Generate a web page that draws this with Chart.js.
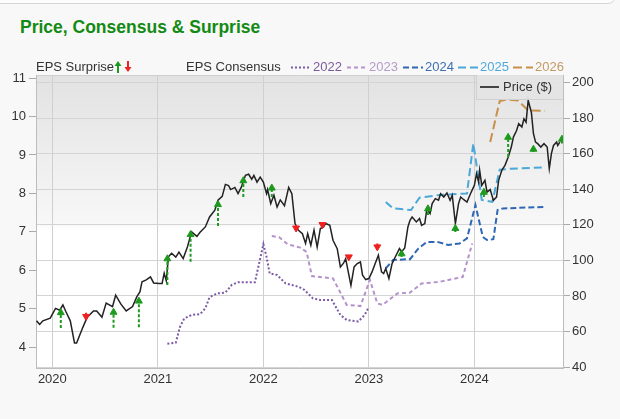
<!DOCTYPE html>
<html>
<head>
<meta charset="utf-8">
<script src="https://cdn.jsdelivr.net/npm/chart.js"></script>
<style>
	body { margin: 0; background: #f8f8f8; font-family: "Liberation Sans", Arial, sans-serif; }
	#wrap { position: relative; width: 620px; height: 419px; overflow: hidden; }
	#card { position: absolute; left: -6px; top: -12px; width: 620px; height: 14px; border: 1px solid #d6d6d6; border-radius: 0 0 8px 0; background: #fdfdfd; }
	#title { position: absolute; left: 20px; top: 17px; line-height: 20px; font-size: 17.5px; font-weight: bold; color: #138a13; white-space: nowrap; }
	.item { position: absolute; top: 59px; line-height: 16px; font-size: 13px; color: #333; white-space: nowrap; }
	.item svg { position: absolute; top: 0; }
	#priceLegend { position: absolute; left: 476px; top: 75px; width: 86px; height: 24px; background: rgba(228, 228, 228, 0.85); border-left: 1px solid #d0d0d0; border-bottom: 1px solid #d0d0d0; }
	#priceLegend span { position: absolute; left: 26px; top: 4px; line-height: 16px; font-size: 13px; color: #333; }
	canvas { position: absolute; left: 0; top: 0; }
</style>
</head>
<body>
<div id="wrap">
	<div id="card"></div>
	<div id="title">Price, Consensus &amp; Surprise</div>
	<canvas id="chart" width="620" height="419"></canvas>
	<div class="item" style="left:36px">EPS Surprise</div>
	<svg class="item" style="left:114px" width="20" height="16">
		<line x1="4" y1="14" x2="4" y2="6" stroke="#1e9a1e" stroke-width="2"/>
		<polygon points="0.5,7 4,2 7.5,7" fill="#1e9a1e"/>
		<line x1="14" y1="2" x2="14" y2="9" stroke="#ee2020" stroke-width="2"/>
		<polygon points="10.5,8 14,13 17.5,8" fill="#ee2020"/>
	</svg>
	<div class="item" style="left:186px">EPS Consensus</div>
	<div id="consensusLegend"></div>
	<div id="priceLegend">
		<svg style="position:absolute;left:2px;top:0" width="22" height="24"><line x1="1" y1="12" x2="20" y2="12" stroke="#444" stroke-width="2"/></svg>
		<span>Price ($)</span>
	</div>
</div>
<script>
// price, right axis ($)
const priceDates = [
	2019.85, 2019.88, 2019.91, 2019.98, 2020.03, 2020.07, 2020.10, 2020.13, 2020.17, 2020.21,
	2020.23, 2020.26, 2020.29, 2020.33, 2020.39, 2020.42, 2020.47, 2020.51, 2020.57, 2020.60,
	2020.65, 2020.70, 2020.76, 2020.80, 2020.83, 2020.85, 2020.89, 2020.93, 2020.96, 2021.01,
	2021.04, 2021.06, 2021.08, 2021.10, 2021.13, 2021.17, 2021.20, 2021.24, 2021.28, 2021.32,
	2021.37, 2021.40, 2021.45, 2021.49, 2021.54, 2021.57, 2021.61, 2021.64, 2021.67, 2021.69,
	2021.73, 2021.76, 2021.79, 2021.83, 2021.86, 2021.89, 2021.91, 2021.94, 2021.97, 2022.00,
	2022.03, 2022.04, 2022.07, 2022.10, 2022.13, 2022.16, 2022.20, 2022.24, 2022.27, 2022.30,
	2022.33, 2022.37, 2022.40, 2022.42, 2022.45, 2022.48, 2022.51, 2022.54, 2022.57, 2022.59,
	2022.63, 2022.66, 2022.70, 2022.73, 2022.76, 2022.78, 2022.83, 2022.86, 2022.89, 2022.92,
	2022.94, 2022.97, 2023.00, 2023.03, 2023.06, 2023.09, 2023.12, 2023.14, 2023.16, 2023.19,
	2023.22, 2023.25, 2023.29, 2023.31, 2023.34, 2023.37, 2023.39, 2023.41, 2023.45, 2023.48,
	2023.50, 2023.53, 2023.55, 2023.58, 2023.60, 2023.63, 2023.66, 2023.68, 2023.71, 2023.74,
	2023.77, 2023.79, 2023.82, 2023.85, 2023.87, 2023.90, 2023.93, 2023.95, 2023.97, 2024.00,
	2024.02, 2024.04, 2024.05, 2024.07, 2024.10, 2024.12, 2024.15, 2024.18, 2024.21, 2024.23,
	2024.26, 2024.29, 2024.32, 2024.35, 2024.37, 2024.40, 2024.42, 2024.45, 2024.47, 2024.49,
	2024.51, 2024.54, 2024.56, 2024.58, 2024.60, 2024.63, 2024.66, 2024.69, 2024.71, 2024.73,
	2024.75, 2024.78, 2024.79, 2024.81
];
const priceValues = [
	66.0, 64.0, 66.0, 67.5, 73.0, 72.0, 75.0, 71.0, 66.0, 53.5,
	53.5, 58.0, 62.5, 68.0, 71.6, 71.5, 68.0, 76.0, 74.0, 80.4,
	75.4, 71.6, 74.0, 79.5, 82.3, 88.0, 89.0, 90.7, 87.3, 87.0,
	87.0, 92.8, 88.5, 102.0, 104.0, 101.8, 104.6, 101.0, 107.5, 116.0,
	113.5, 115.8, 118.8, 124.4, 128.2, 133.8, 136.0, 142.7, 142.0, 139.8,
	141.0, 137.5, 141.0, 147.8, 148.4, 145.6, 147.8, 144.0, 146.8, 144.0,
	137.5, 139.8, 131.9, 136.6, 130.0, 134.0, 130.7, 141.0, 137.5, 120.7,
	117.0, 115.0, 109.5, 115.0, 108.5, 117.0, 107.5, 117.9, 118.8, 120.7,
	119.7, 111.3, 106.6, 96.3, 98.4, 101.0, 86.0, 96.3, 98.2, 99.1,
	91.7, 89.2, 89.8, 93.5, 98.2, 102.9, 93.5, 92.6, 95.4, 89.8,
	98.2, 101.9, 106.6, 104.7, 107.0, 118.8, 122.5, 124.4, 121.6, 123.5,
	119.7, 120.7, 129.1, 126.3, 131.9, 134.7, 133.8, 137.5, 135.6, 137.9,
	133.8, 136.6, 120.7, 131.9, 135.6, 134.1, 132.8, 135.6, 138.4, 142.2,
	148.7, 144.0, 150.6, 142.2, 145.0, 138.4, 139.8, 133.8, 135.6, 145.0,
	150.6, 153.4, 158.0, 163.7, 169.3, 173.0, 176.8, 175.0, 179.6, 177.7,
	189.9, 183.3, 171.2, 166.5, 165.6, 163.7, 165.6, 163.7, 151.6, 160.0,
	164.6, 166.5, 164.6, 166.5
];

// EPS surprise per quarter, left axis
const surpriseDates = [
	2020.08, 2020.32, 2020.58, 2020.82, 2021.09, 2021.31, 2021.57, 2021.81, 2022.08, 2022.31,
	2022.56, 2022.81, 2023.08, 2023.31, 2023.56, 2023.82, 2024.09, 2024.32, 2024.56, 2024.83
];
const surpriseActual = [
	4.90, 4.80, 4.91, 5.20, 6.30, 6.93, 7.71, 8.33, 8.14, 7.10,
	7.19, 6.35, 6.61, 6.43, 7.60, 7.09, 8.03, 9.46, 9.15, 9.41
];
const surpriseEstimate = [
	4.50, 4.90, 4.51, 4.52, 5.62, 6.22, 7.15, 7.91, 7.91, 7.18,
	7.22, 6.40, 6.70, 6.35, 7.44, 7.00, 7.91, 8.95, 9.08, 9.30
];

// EPS consensus by fiscal year, left axis
const consensus2022Dates = [
	2021.09, 2021.17, 2021.21, 2021.25, 2021.32, 2021.40, 2021.45, 2021.49, 2021.56, 2021.64,
	2021.70, 2021.76, 2021.92, 2021.97, 2022.00, 2022.03, 2022.06, 2022.13, 2022.21, 2022.30,
	2022.35, 2022.39, 2022.47, 2022.54, 2022.65, 2022.73, 2022.79, 2022.90, 2022.96, 2023.00
];
const consensus2022Values = [
	4.09, 4.12, 4.53, 4.75, 4.84, 4.86, 5.01, 5.30, 5.40, 5.42,
	5.62, 5.69, 5.69, 6.31, 6.68, 6.35, 5.92, 5.88, 5.66, 5.60,
	5.55, 5.49, 5.27, 5.23, 5.23, 4.84, 4.71, 4.67, 4.84, 5.05
];
const consensus2023Dates = [
	2022.08, 2022.15, 2022.23, 2022.35, 2022.41, 2022.46, 2022.66, 2022.79, 2022.92, 2023.01,
	2023.08, 2023.13, 2023.27, 2023.39, 2023.50, 2023.67, 2023.89, 2023.98
];
const consensus2023Values = [
	6.89, 6.86, 6.68, 6.59, 6.48, 5.85, 5.79, 5.10, 5.07, 5.75,
	5.14, 5.10, 5.40, 5.42, 5.66, 5.70, 5.83, 6.70
];
const consensus2024Dates = [
	2023.16, 2023.23, 2023.39, 2023.47, 2023.55, 2023.65, 2023.75, 2023.86, 2023.93, 2024.01,
	2024.08, 2024.12, 2024.18, 2024.22, 2024.27, 2024.67
];
const consensus2024Values = [
	6.05, 6.27, 6.29, 6.57, 6.74, 6.74, 6.66, 6.70, 6.83, 7.70,
	6.87, 6.79, 6.81, 7.57, 7.61, 7.65
];
const consensus2025Dates = [
	2023.16, 2023.23, 2023.40, 2023.48, 2023.67, 2023.93, 2023.99, 2024.07, 2024.17, 2024.24,
	2024.34, 2024.67
];
const consensus2025Values = [
	7.78, 7.61, 7.57, 7.89, 7.96, 8.00, 9.30, 7.83, 7.78, 8.62,
	8.64, 8.68
];
const consensus2026Dates = [2024.15, 2024.24, 2024.30, 2024.41, 2024.51, 2024.67];
const consensus2026Values = [9.34, 10.40, 10.44, 10.42, 10.16, 10.15];

const yearTicks = [2020, 2021, 2022, 2023, 2024];
const epsTicks = [4, 5, 6, 7, 8, 9, 10, 11];
const priceTicks = [40, 60, 80, 100, 120, 140, 160, 180, 200];

const FONT = "'Liberation Sans', Arial, sans-serif";
const GREEN = '#1e9a1e';
const RED = '#ee2020';

const consensusSeries = [
	{ label: '2022', dates: consensus2022Dates, values: consensus2022Values, color: '#7b5aa6', text: '#7a5c9c', dash: [2, 2] },
	{ label: '2023', dates: consensus2023Dates, values: consensus2023Values, color: '#b592cc', text: '#b69ac8', dash: [4, 3] },
	{ label: '2024', dates: consensus2024Dates, values: consensus2024Values, color: '#2e68b4', text: '#3f6fb0', dash: [6, 3] },
	{ label: '2025', dates: consensus2025Dates, values: consensus2025Values, color: '#4ba8d8', text: '#4fa9dc', dash: [8, 4] },
	{ label: '2026', dates: consensus2026Dates, values: consensus2026Values, color: '#c8904a', text: '#c49a66', dash: [9, 4] }
];

function toPoints(xs, ys) {
	return xs.map((x, i) => ({ x: x, y: ys[i] }));
}

function surprisePoints(beat) {
	const points = [];
	surpriseDates.forEach((date, i) => {
		if ((surpriseActual[i] >= surpriseEstimate[i]) !== beat) return;
		points.push({ x: date, y: surpriseEstimate[i], head: false });
		points.push({ x: date, y: surpriseActual[i], head: true });
		points.push({ x: date, y: null });
	});
	return points;
}

function arrowDataset(beat) {
	const color = beat ? GREEN : RED;
	return {
		label: beat ? 'beat' : 'miss',
		data: surprisePoints(beat),
		yAxisID: 'eps',
		borderColor: color,
		backgroundColor: color,
		borderWidth: 2,
		borderDash: beat ? [3, 2] : [],
		pointStyle: 'triangle',
		pointRotation: beat ? 0 : 180,
		pointRadius: ctx => (ctx.raw && ctx.raw.head ? 4 : 0),
		pointBorderWidth: 1,
		spanGaps: false,
		order: 0
	};
}

// html legend for the consensus years
const legendPositions = [291, 347, 403, 458, 513];
const legendBox = document.getElementById('consensusLegend');
consensusSeries.forEach((s, i) => {
	const left = legendPositions[i];
	legendBox.insertAdjacentHTML('beforeend',
		'<svg class="item" style="left:' + left + 'px" width="20" height="16">' +
		'<line x1="0" y1="8.5" x2="20" y2="8.5" stroke="' + s.color + '" stroke-width="2" stroke-dasharray="' + s.dash.join(',') + '"/></svg>' +
		'<div class="item" style="left:' + (left + 22) + 'px;color:' + s.text + '">' + s.label + '</div>');
});

const plotBackground = {
	id: 'plotBackground',
	beforeDraw(chart) {
		const { ctx, chartArea: a } = chart;
		const g = ctx.createLinearGradient(0, a.top, 0, a.bottom);
		g.addColorStop(0, '#e2e2e2');
		g.addColorStop(0.5, '#f7f7f7');
		g.addColorStop(0.53, '#ffffff');
		g.addColorStop(1, '#ffffff');
		ctx.save();
		ctx.fillStyle = g;
		ctx.fillRect(a.left, a.top, a.right - a.left, a.bottom - a.top);
		ctx.strokeStyle = '#d0d0d0';
		ctx.lineWidth = 1;
		ctx.beginPath();
		ctx.moveTo(a.left, a.top + 0.5);
		ctx.lineTo(a.right, a.top + 0.5);
		ctx.stroke();
		ctx.restore();
	}
};

const tickFont = { family: FONT, size: 13 };

const datasets = [arrowDataset(true), arrowDataset(false), {
	label: 'Price ($)',
	data: toPoints(priceDates, priceValues),
	yAxisID: 'price',
	borderColor: '#222',
	borderWidth: 1.5,
	pointRadius: 0,
	tension: 0,
	order: 1
}];
consensusSeries.forEach((s, i) => {
	datasets.push({
		label: s.label,
		data: toPoints(s.dates, s.values),
		yAxisID: 'eps',
		borderColor: s.color,
		borderWidth: 2,
		borderDash: s.dash,
		pointRadius: 0,
		tension: 0,
		order: 2 + i
	});
});

new Chart(document.getElementById('chart'), {
	type: 'line',
	data: { datasets: datasets },
	plugins: [plotBackground],
	options: {
		responsive: false,
		animation: false,
		devicePixelRatio: 1,
		layout: { padding: { top: 75, left: 0, right: 0, bottom: 0 } },
		plugins: { legend: { display: false }, tooltip: { enabled: false } },
		scales: {
			x: {
				type: 'linear',
				min: 2019.845,
				max: 2024.84,
				afterBuildTicks: s => { s.ticks = yearTicks.map(v => ({ value: v })); },
				afterFit: s => { s.height = 51; },
				grid: { color: '#cfcfcf', drawTicks: false },
				border: { color: '#bdbdbd' },
				ticks: { color: '#333', font: tickFont, padding: 4, maxRotation: 0, autoSkip: false, callback: v => String(v) }
			},
			eps: {
				type: 'linear',
				position: 'left',
				min: 3.46,
				max: 11.08,
				afterBuildTicks: s => { s.ticks = epsTicks.map(v => ({ value: v })); },
				afterFit: s => { s.width = 36; },
				grid: { drawOnChartArea: false, tickLength: 7, tickColor: '#aaa' },
				border: { color: '#bdbdbd' },
				ticks: { color: '#333', font: tickFont, padding: 3 }
			},
			price: {
				type: 'linear',
				position: 'right',
				min: 39.5,
				max: 204.2,
				afterBuildTicks: s => { s.ticks = priceTicks.map(v => ({ value: v })); },
				afterFit: s => { s.width = 57; },
				grid: { color: '#d4d4d4', tickLength: 7, tickColor: '#aaa' },
				border: { color: '#bdbdbd' },
				ticks: { color: '#333', font: tickFont, padding: 2 }
			}
		}
	}
});
</script>
</body>
</html>
